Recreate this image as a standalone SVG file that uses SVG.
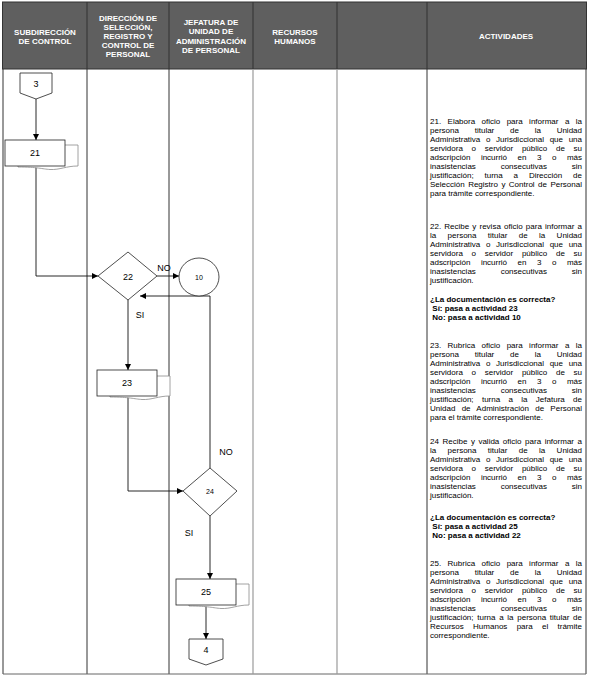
<svg xmlns="http://www.w3.org/2000/svg" width="590" height="679" viewBox="0 0 590 679">
<style>
text{font-family:"Liberation Sans",Arial,sans-serif;fill:#000}
.h{font-size:8px;font-weight:bold;fill:#fff;text-anchor:middle}
.t{font-size:8px}
.b{font-size:8px;font-weight:bold}
.n{font-size:9px;text-anchor:middle}
.s{font-size:7px;text-anchor:middle}
.lb{font-size:9px;text-anchor:middle}
.shape{fill:#fff;stroke:#222;stroke-width:0.8}
.shadow{fill:#fff;stroke:#8a8a8a;stroke-width:0.8}
.con{fill:none;stroke:#111;stroke-width:0.9}
.dk{stroke:#333;stroke-width:1}
.gr{stroke:#9a9a9a;stroke-width:1.2}
</style>
<defs>
<marker id="ah" viewBox="0 0 10 10" refX="10" refY="5" markerWidth="7" markerHeight="6" orient="auto" markerUnits="userSpaceOnUse"><path d="M0,0 L10,5 L0,10 z" fill="#000"/></marker>
</defs>
<rect x="0" y="0" width="590" height="679" fill="#fff"/>
<g id="table">
<rect x="2.5" y="2" width="584" height="67" fill="#5f5f5f" stroke="#333" stroke-width="1"/>
<g class="dk">
<line x1="87" y1="2" x2="87" y2="674"/>
<line x1="169" y1="2" x2="169" y2="674"/>
<line x1="3" y1="69" x2="3" y2="674"/>
<line x1="586" y1="69" x2="586" y2="674"/>
<line x1="427" y1="2" x2="427" y2="674"/>
<line x1="253" y1="2" x2="253" y2="69"/>
<line x1="337" y1="2" x2="337" y2="69"/>
<line x1="3" y1="674" x2="586" y2="674" stroke="#666"/>
</g>
<g class="gr">
<line x1="253" y1="69" x2="253" y2="674"/>
<line x1="337" y1="69" x2="337" y2="674"/>
</g>
<text class="h" x="45" y="34.5">SUBDIRECCIÓN</text>
<text class="h" x="45" y="43.7">DE CONTROL</text>
<text class="h" x="128" y="20.6">DIRECCIÓN DE</text>
<text class="h" x="128" y="29.8">SELECCIÓN,</text>
<text class="h" x="128" y="39">REGISTRO Y</text>
<text class="h" x="128" y="48.2">CONTROL DE</text>
<text class="h" x="128" y="57.4">PERSONAL</text>
<text class="h" x="211" y="25.2">JEFATURA DE</text>
<text class="h" x="211" y="34.4">UNIDAD DE</text>
<text class="h" x="211" y="43.6">ADMINISTRACIÓN</text>
<text class="h" x="211" y="52.8">DE PERSONAL</text>
<text class="h" x="295" y="34.5">RECURSOS</text>
<text class="h" x="295" y="43.7">HUMANOS</text>
<text class="h" x="506" y="39">ACTIVIDADES</text>
</g>
<g id="connectors">
<path class="con" d="M36,99 V140" marker-end="url(#ah)"/>
<path class="con" d="M36,166 V276 H98" marker-end="url(#ah)"/>
<path class="con" d="M157,276 H179" marker-end="url(#ah)"/>
<path class="con" d="M210,468 V296 H140" marker-end="url(#ah)"/>
<path class="con" d="M128,300 V370" marker-end="url(#ah)"/>
<path class="con" d="M128,396 V491 H183" marker-end="url(#ah)"/>
<path class="con" d="M210,516 V579" marker-end="url(#ah)"/>
<path class="con" d="M206,605 V639" marker-end="url(#ah)"/>
<text class="lb" x="164" y="271">NO</text>
<text class="lb" x="140" y="318">SI</text>
<text class="lb" x="226" y="455">NO</text>
<text class="lb" x="189" y="536">SI</text>
</g>
<g id="node-3">
<polygon class="shape" points="20,73 52,73 52,93 36,99 20,93"/>
<text class="n" x="36" y="87">3</text>
</g>
<g id="node-21">
<path class="shadow" d="M18,145 H78 V166 C66,166 60,170 50,169.5 C42,169 38,167 18,167 Z"/>
<rect class="shape" x="5" y="140" width="60" height="26"/>
<text class="n" x="35" y="156">21</text>
</g>
<g id="node-22">
<polygon class="shape" points="98,276 128,252 157,276 128,300"/>
<text class="n" x="128" y="279.5">22</text>
</g>
<g id="node-10">
<ellipse class="shape" cx="199" cy="277" rx="20" ry="19"/>
<text class="s" x="199" y="279.5">10</text>
</g>
<g id="node-23">
<path class="shadow" d="M110,376 H170 V396 C158,396 152,400 142,399.5 C134,399 130,397 110,397 Z"/>
<rect class="shape" x="97" y="370" width="60" height="26"/>
<text class="n" x="127" y="386">23</text>
</g>
<g id="node-24">
<polygon class="shape" points="183,491 210,468 237,491 210,516"/>
<text class="s" x="210" y="494">24</text>
</g>
<g id="node-25">
<path class="shadow" d="M189,584 H249 V605 C237,605 231,609 221,608.5 C213,608 209,606 189,606 Z"/>
<rect class="shape" x="176" y="579" width="60" height="26"/>
<text class="n" x="206" y="595">25</text>
</g>
<g id="node-4">
<polygon class="shape" points="189,639 223,639 223,659 206,665 189,659"/>
<text class="n" x="206" y="653">4</text>
</g>
<g id="activities">
<text class="t" x="430" y="124" textLength="152" lengthAdjust="spacing" style="word-spacing:4.2px">21. Elabora oficio para informar a la</text>
<text class="t" x="430" y="133" textLength="152" lengthAdjust="spacing" style="word-spacing:13.5px">persona titular de la Unidad</text>
<text class="t" x="430" y="142" textLength="152" lengthAdjust="spacing" style="word-spacing:3.4px">Administrativa o Jurisdiccional que una</text>
<text class="t" x="430" y="151" textLength="152" lengthAdjust="spacing" style="word-spacing:6.5px">servidora o servidor público de su</text>
<text class="t" x="430" y="160" textLength="152" lengthAdjust="spacing" style="word-spacing:8.3px">adscripción incurrió en 3 o más</text>
<text class="t" x="430" y="169" textLength="152" lengthAdjust="spacing" style="word-spacing:22.6px">inasistencias consecutivas sin</text>
<text class="t" x="430" y="178" textLength="152" lengthAdjust="spacing" style="word-spacing:8.6px">justificación; turna a Dirección de</text>
<text class="t" x="430" y="187" textLength="152" lengthAdjust="spacing" style="word-spacing:1.2px">Selección Registro y Control de Personal</text>
<text class="t" x="430" y="196">para trámite correspondiente.</text>

<text class="t" x="430" y="229" textLength="152" lengthAdjust="spacing" style="word-spacing:0.9px">22. Recibe y revisa oficio para informar a</text>
<text class="t" x="430" y="238" textLength="152" lengthAdjust="spacing" style="word-spacing:9.1px">la persona titular de la Unidad</text>
<text class="t" x="430" y="247" textLength="152" lengthAdjust="spacing" style="word-spacing:3.4px">Administrativa o Jurisdiccional que una</text>
<text class="t" x="430" y="256" textLength="152" lengthAdjust="spacing" style="word-spacing:6.5px">servidora o servidor público de su</text>
<text class="t" x="430" y="265" textLength="152" lengthAdjust="spacing" style="word-spacing:8.3px">adscripción incurrió en 3 o más</text>
<text class="t" x="430" y="274" textLength="152" lengthAdjust="spacing" style="word-spacing:22.6px">inasistencias consecutivas sin</text>
<text class="t" x="430" y="283">justificación.</text>

<text class="b" x="430" y="302">¿La documentación es correcta?</text>
<text class="b" x="432.3" y="311">Sí: pasa a actividad 23</text>
<text class="b" x="432.3" y="320">No: pasa a actividad 10</text>

<text class="t" x="430" y="348" textLength="152" lengthAdjust="spacing" style="word-spacing:4.2px">23. Rubrica oficio para informar a la</text>
<text class="t" x="430" y="357" textLength="152" lengthAdjust="spacing" style="word-spacing:13.5px">persona titular de la Unidad</text>
<text class="t" x="430" y="366" textLength="152" lengthAdjust="spacing" style="word-spacing:3.4px">Administrativa o Jurisdiccional que una</text>
<text class="t" x="430" y="375" textLength="152" lengthAdjust="spacing" style="word-spacing:6.5px">servidora o servidor público de su</text>
<text class="t" x="430" y="384" textLength="152" lengthAdjust="spacing" style="word-spacing:8.3px">adscripción incurrió en 3 o más</text>
<text class="t" x="430" y="393" textLength="152" lengthAdjust="spacing" style="word-spacing:22.6px">inasistencias consecutivas sin</text>
<text class="t" x="430" y="402" textLength="152" lengthAdjust="spacing" style="word-spacing:6.1px">justificación; turna a la Jefatura de</text>
<text class="t" x="430" y="411" textLength="152" lengthAdjust="spacing" style="word-spacing:4px">Unidad de Administración de Personal</text>
<text class="t" x="430" y="420">para el trámite correspondiente.</text>

<text class="t" x="430" y="444" textLength="152" lengthAdjust="spacing" style="word-spacing:1.3px">24 Recibe y valida oficio para informar a</text>
<text class="t" x="430" y="453" textLength="152" lengthAdjust="spacing" style="word-spacing:9.1px">la persona titular de la Unidad</text>
<text class="t" x="430" y="462" textLength="152" lengthAdjust="spacing" style="word-spacing:3.4px">Administrativa o Jurisdiccional que una</text>
<text class="t" x="430" y="471" textLength="152" lengthAdjust="spacing" style="word-spacing:6.5px">servidora o servidor público de su</text>
<text class="t" x="430" y="480" textLength="152" lengthAdjust="spacing" style="word-spacing:8.3px">adscripción incurrió en 3 o más</text>
<text class="t" x="430" y="489" textLength="152" lengthAdjust="spacing" style="word-spacing:22.6px">inasistencias consecutivas sin</text>
<text class="t" x="430" y="498">justificación.</text>

<text class="b" x="430" y="520">¿La documentación es correcta?</text>
<text class="b" x="432.3" y="529">Sí: pasa a actividad 25</text>
<text class="b" x="432.3" y="538">No: pasa a actividad 22</text>

<text class="t" x="430" y="566" textLength="152" lengthAdjust="spacing" style="word-spacing:4.2px">25. Rubrica oficio para informar a la</text>
<text class="t" x="430" y="575" textLength="152" lengthAdjust="spacing" style="word-spacing:13.5px">persona titular de la Unidad</text>
<text class="t" x="430" y="584" textLength="152" lengthAdjust="spacing" style="word-spacing:3.4px">Administrativa o Jurisdiccional que una</text>
<text class="t" x="430" y="593" textLength="152" lengthAdjust="spacing" style="word-spacing:6.5px">servidora o servidor público de su</text>
<text class="t" x="430" y="602" textLength="152" lengthAdjust="spacing" style="word-spacing:8.3px">adscripción incurrió en 3 o más</text>
<text class="t" x="430" y="611" textLength="152" lengthAdjust="spacing" style="word-spacing:22.6px">inasistencias consecutivas sin</text>
<text class="t" x="430" y="620" textLength="152" lengthAdjust="spacing" style="word-spacing:1.5px">justificación; turna a la persona titular de</text>
<text class="t" x="430" y="629" textLength="152" lengthAdjust="spacing" style="word-spacing:7.1px">Recursos Humanos para el trámite</text>
<text class="t" x="430" y="638">correspondiente.</text>
</g>
</svg>
